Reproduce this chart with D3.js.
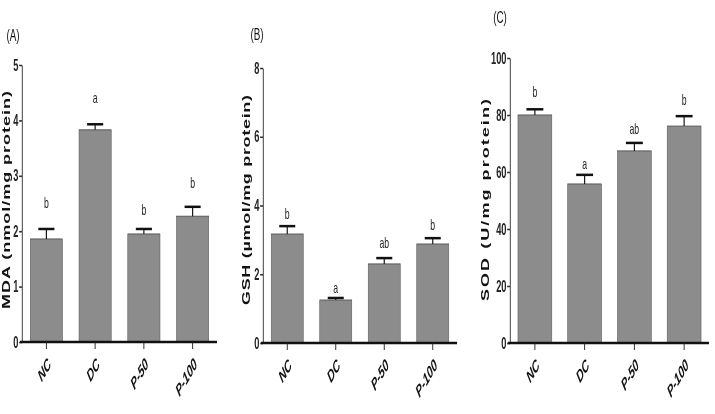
<!DOCTYPE html>
<html>
<head>
<meta charset="utf-8">
<script src="https://cdn.jsdelivr.net/npm/d3@7"></script>
<style>
  body { margin: 0; background: #fff; }
  svg { display: block; font-family: "Liberation Sans", Arial, sans-serif; will-change: transform; }
  text { opacity: 0.99; }
</style>
</head>
<body>
<svg id="chart"></svg>
<script>
// groups and values
const groups = ["NC", "DC", "P-50", "P-100"];

const mdaMean = [1.86, 3.83, 1.95, 2.27];
const mdaErr = [0.18, 0.10, 0.09, 0.17];
const mdaLetters = ["b", "a", "b", "b"];
const mdaLetterAt = [2.51, 4.40, 2.38, 2.87];

const gshMean = [3.17, 1.25, 2.30, 2.88];
const gshErr = [0.23, 0.06, 0.17, 0.17];
const gshLetters = ["b", "a", "ab", "b"];
const gshLetterAt = [3.75, 1.60, 2.91, 3.43];

const sodMean = [80.0, 55.8, 67.4, 76.1];
const sodErr = [2.0, 3.2, 2.8, 3.5];
const sodLetters = ["b", "a", "ab", "b"];
const sodLetterAt = [88.1, 62.8, 75.1, 85.3];

const mdaTicks = [0, 1, 2, 3, 4, 5];
const gshTicks = [0, 2, 4, 6, 8];
const sodTicks = [0, 20, 40, 60, 80, 100];

const W = 715, H = 414;
// the figure is squeezed horizontally, so draw wide and scale x down
const sx = 0.58;
const X = px => px / sx;

const svg = d3.select("#chart").attr("width", W).attr("height", H);
const root = svg.append("g").attr("transform", `scale(${sx},1)`);

const panels = [
  { tag: "(A)", tagX: 13, tagY: 35, label: "MDA (nmol/mg protein)", labelX: 6, labelLen: 218,
    left: 22, right: 217, top: 65, bottom: 342, max: 5, ticks: mdaTicks, pad: 0.34,
    mean: mdaMean, err: mdaErr, letters: mdaLetters, letterAt: mdaLetterAt },
  { tag: "(B)", tagX: 257, tagY: 34, label: "GSH (\u00b5mol/mg protein)", labelX: 246, labelLen: 210,
    left: 263, right: 457, top: 68, bottom: 343, max: 8, ticks: gshTicks, pad: 0.34,
    mean: gshMean, err: gshErr, letters: gshLetters, letterAt: gshLetterAt },
  { tag: "(C)", tagX: 500, tagY: 17, label: "SOD (U/mg protein)", labelX: 485, labelLen: 202,
    left: 510, right: 709, top: 58, bottom: 343, max: 100, ticks: sodTicks, pad: 0.32,
    mean: sodMean, err: sodErr, letters: sodLetters, letterAt: sodLetterAt }
];

panels.forEach(p => {
  const g = root.append("g");

  const x = d3.scaleBand()
    .domain(groups)
    .range([X(p.left), X(p.right)])
    .paddingInner(p.pad)
    .paddingOuter(p.pad / 2);

  const y = d3.scaleLinear()
    .domain([0, p.max])
    .range([p.bottom, p.top]);

  // bars
  g.selectAll(".bar")
    .data(groups)
    .enter().append("rect")
    .attr("x", d => x(d))
    .attr("y", (d, i) => y(p.mean[i]))
    .attr("width", x.bandwidth())
    .attr("height", (d, i) => y(0) - y(p.mean[i]))
    .style("fill", "#8c8c8c")
    .style("stroke", "#5a5a5a")
    .style("stroke-width", 1);

  // upper error bars only
  const capW = x.bandwidth() * 0.5;
  g.selectAll(".stem")
    .data(groups)
    .enter().append("line")
    .attr("x1", d => x(d) + x.bandwidth() / 2)
    .attr("x2", d => x(d) + x.bandwidth() / 2)
    .attr("y1", (d, i) => y(p.mean[i]))
    .attr("y2", (d, i) => y(p.mean[i] + p.err[i]))
    .style("stroke", "#111")
    .style("stroke-width", 2);
  g.selectAll(".cap")
    .data(groups)
    .enter().append("line")
    .attr("x1", d => x(d) + x.bandwidth() / 2 - capW / 2)
    .attr("x2", d => x(d) + x.bandwidth() / 2 + capW / 2)
    .attr("y1", (d, i) => y(p.mean[i] + p.err[i]))
    .attr("y2", (d, i) => y(p.mean[i] + p.err[i]))
    .style("stroke", "#111")
    .style("stroke-width", 2.5);

  // significance letters
  g.selectAll(".letter")
    .data(groups)
    .enter().append("text")
    .attr("x", d => x(d) + x.bandwidth() / 2)
    .attr("y", (d, i) => y(p.letterAt[i]))
    .attr("dy", "0.35em")
    .attr("text-anchor", "middle")
    .attr("font-size", 15)
    .attr("fill", "#222")
    .text((d, i) => p.letters[i]);

  // y axis
  const yAxis = g.append("g")
    .attr("transform", `translate(${X(p.left)},0)`)
    .call(d3.axisLeft(y).tickValues(p.ticks).tickFormat(d3.format("d"))
      .tickSize(5).tickSizeOuter(0).tickPadding(1));
  yAxis.select(".domain").style("stroke", "#333").style("stroke-width", 1.6);
  yAxis.selectAll(".tick line").style("stroke", "#333").style("stroke-width", 1.6);
  yAxis.selectAll(".tick text")
    .attr("font-size", 16)
    .attr("font-weight", "bold")
    .attr("font-family", "Liberation Sans, Arial, sans-serif")
    .attr("fill", "#222");

  // x axis
  const xAxis = g.append("g")
    .attr("transform", `translate(0,${p.bottom})`)
    .call(d3.axisBottom(x).tickSize(7).tickSizeOuter(0).tickFormat(""));
  xAxis.select(".domain")
    .attr("d", `M${X(p.left - 2)},0H${X(p.right)}`)
    .style("stroke", "#111").style("stroke-width", 2.5);
  xAxis.selectAll(".tick line").style("stroke", "#222").style("stroke-width", 1.6);

  // rotated x labels
  g.selectAll(".xlab")
    .data(groups)
    .enter().append("text")
    .attr("transform", d => `translate(${x(d) + x.bandwidth() / 2 + 5},${p.bottom + 19}) rotate(-45)`)
    .attr("text-anchor", "end")
    .attr("dy", "0.35em")
    .attr("font-size", 17)
    .attr("font-weight", "bold")
    .attr("font-style", "italic")
    .attr("fill", "#111")
    .text(d => d);

  // y label
  g.append("text")
    .attr("transform", `translate(${X(p.labelX)},200) rotate(-90)`)
    .attr("text-anchor", "middle")
    .attr("dy", "0.35em")
    .attr("font-size", 18)
    .attr("font-weight", "bold")
    .attr("textLength", p.labelLen)
    .attr("lengthAdjust", "spacing")
    .attr("fill", "#111")
    .text(p.label);

  // panel tag
  g.append("text")
    .attr("x", X(p.tagX))
    .attr("y", p.tagY)
    .attr("dy", "0.35em")
    .attr("text-anchor", "middle")
    .attr("font-size", 17)
    .attr("fill", "#111")
    .text(p.tag);
});
</script>
</body>
</html>
